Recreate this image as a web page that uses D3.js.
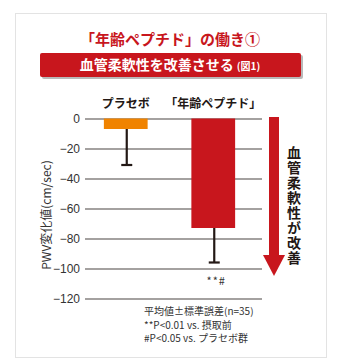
<!DOCTYPE html>
<html>
<head>
<meta charset="utf-8">
<script src="https://cdn.jsdelivr.net/npm/d3@7"></script>
<style>
  body { margin: 0; background: #fff; }
  svg { display: block; font-family: "Noto Sans CJK JP", "Noto Sans", sans-serif; }
</style>
</head>
<body>
<div id="chart"></div>
<script>
// data
var categories = ["プラセボ", "「年齢ペプチド」"];
var means = [-7, -73];
var errors = [24, 23];
var barColors = ["#f08300", "#c8161d"];
var yTicks = [0, -20, -40, -60, -80, -100, -120];
var notes = ["平均値±標準誤差(n=35)", "**P<0.01 vs. 摂取前", "#P<0.05 vs. プラセボ群"];

var svg = d3.select("#chart").append("svg")
    .attr("width", 360).attr("height", 363);

// frame
svg.append("rect")
    .attr("x", 15.5).attr("y", 13.5).attr("width", 311).attr("height", 344)
    .attr("fill", "#fff").attr("stroke", "#e3e3e3");

svg.append("text")
    .attr("x", 170).attr("y", 45)
    .attr("text-anchor", "middle")
    .attr("font-size", 15).attr("font-weight", "bold").attr("fill", "#c8161d")
    .text("「年齢ペプチド」の働き①");

svg.append("rect")
    .attr("x", 42).attr("y", 55).attr("width", 261).attr("height", 24)
    .attr("rx", 2).attr("fill", "#b9b9b9");
svg.append("rect")
    .attr("x", 40).attr("y", 53).attr("width", 261).attr("height", 24)
    .attr("rx", 2).attr("fill", "#c8161d");
var banner = svg.append("text")
    .attr("x", 170).attr("y", 70)
    .attr("text-anchor", "middle")
    .attr("font-weight", "bold").attr("fill", "#fff");
banner.append("tspan").attr("font-size", 14).text("血管柔軟性を改善させる");
banner.append("tspan").attr("font-size", 10).attr("dx", 3).text("(図1)");

var y = d3.scaleLinear().domain([0, -120]).range([118.5, 298.5]);
var x = d3.scaleBand().domain(categories).range([82, 257]).paddingInner(0.5).paddingOuter(0.25);

// gridlines + labels
var yAxis = d3.axisLeft(y).tickValues(yTicks).tickSize(-(262 - 85)).tickPadding(5);
var g = svg.append("g").attr("transform", "translate(85,0)").call(yAxis);
g.select(".domain").remove();
g.selectAll(".tick line").attr("stroke", "#4a4543").attr("stroke-width", 1.2);
g.selectAll(".tick text")
    .attr("font-family", "Liberation Sans, Arial, sans-serif")
    .attr("font-size", 12).attr("fill", "#333");

svg.append("text")
    .attr("transform", "translate(51,215) rotate(-90)")
    .attr("text-anchor", "middle")
    .attr("font-size", 12).attr("fill", "#333")
    .text("PWV変化値(cm/sec)");

// bars
svg.selectAll("rect.bar").data(means).enter().append("rect")
    .attr("class", "bar")
    .attr("x", function(d, i) { return x(categories[i]); })
    .attr("width", x.bandwidth())
    .attr("y", y(0))
    .attr("height", function(d) { return y(d) - y(0); })
    .attr("fill", function(d, i) { return barColors[i]; });

// error bars
var err = svg.selectAll("g.err").data(means).enter().append("g").attr("class", "err");
err.append("line")
    .attr("x1", function(d, i) { return x(categories[i]) + x.bandwidth() / 2 + 1; })
    .attr("x2", function(d, i) { return x(categories[i]) + x.bandwidth() / 2 + 1; })
    .attr("y1", function(d) { return y(d); })
    .attr("y2", function(d, i) { return y(d - errors[i]); })
    .attr("stroke", "#231815").attr("stroke-width", 2.2);
err.append("line")
    .attr("x1", function(d, i) { return x(categories[i]) + x.bandwidth() / 2 + 1 - 5.5; })
    .attr("x2", function(d, i) { return x(categories[i]) + x.bandwidth() / 2 + 1 + 5.5; })
    .attr("y1", function(d, i) { return y(d - errors[i]); })
    .attr("y2", function(d, i) { return y(d - errors[i]); })
    .attr("stroke", "#231815").attr("stroke-width", 2.2);

// category labels
svg.selectAll("text.cat").data(categories).enter().append("text")
    .attr("class", "cat")
    .attr("x", function(d) { return x(d) + x.bandwidth() / 2; })
    .attr("y", 108)
    .attr("text-anchor", "middle")
    .attr("font-size", 12).attr("font-weight", "bold").attr("fill", "#231815")
    .text(function(d) { return d; });

svg.append("text")
    .attr("x", x(categories[1]) + x.bandwidth() / 2 + 3).attr("y", 285)
    .attr("text-anchor", "middle")
    .attr("font-size", 11).attr("letter-spacing", 1).attr("fill", "#333")
    .text("**#");

// arrow
svg.append("rect")
    .attr("x", 269).attr("y", 117).attr("width", 10).attr("height", 140)
    .attr("fill", "#c8161d");
svg.append("path")
    .attr("d", "M263,255 L285,255 L274,276 Z")
    .attr("fill", "#c8161d");

svg.append("text")
    .attr("x", 294).attr("y", 146)
    .attr("style", "writing-mode: vertical-rl; letter-spacing: 1px")
    .attr("font-size", 14).attr("font-weight", "bold").attr("fill", "#231815")
    .text("血管柔軟性が改善");

svg.selectAll("text.note").data(notes).enter().append("text")
    .attr("class", "note")
    .attr("x", 144)
    .attr("y", function(d, i) { return 315 + i * 13.5; })
    .attr("font-size", 10).attr("fill", "#333")
    .text(function(d) { return d; });
</script>
</body>
</html>
